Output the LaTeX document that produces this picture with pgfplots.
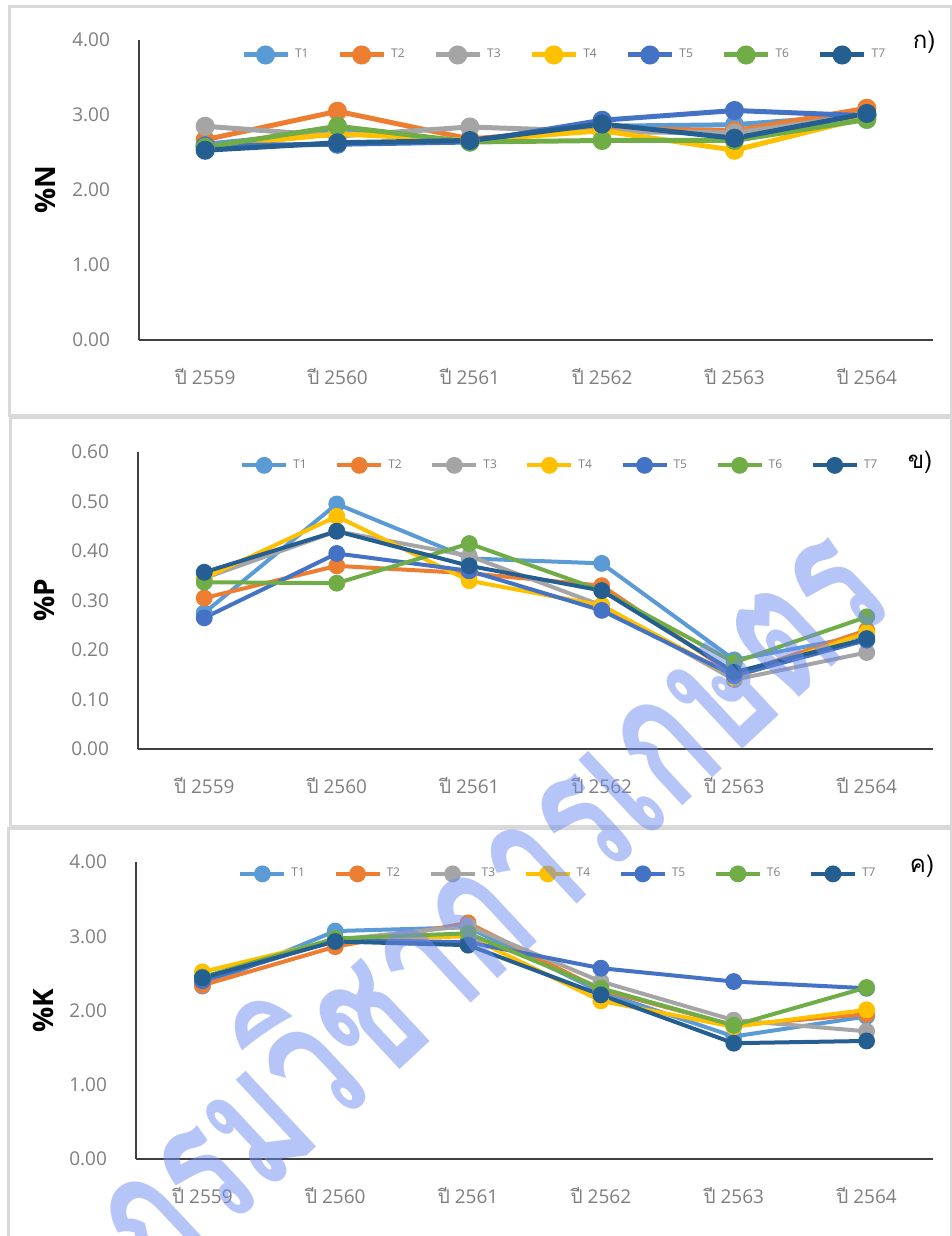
\documentclass[border=0pt]{standalone}
\usepackage{fontspec}
\setmainfont{Open Sans}
\newfontfamily\thaifont[Script=Thai]{Loma}
\usepackage{pgfplots}
\usepackage{pgfplotstable}
\pgfplotsset{compat=1.18}

\definecolor{c1}{HTML}{5B9BD5}
\definecolor{c2}{HTML}{ED7D31}
\definecolor{c3}{HTML}{A5A5A5}
\definecolor{c4}{HTML}{FFC000}
\definecolor{c5}{HTML}{4472C4}
\definecolor{c6}{HTML}{70AD47}
\definecolor{c7}{HTML}{255E91}
\definecolor{tickgray}{HTML}{7F7F7F}
\definecolor{axisgray}{HTML}{404040}
\definecolor{framegray}{HTML}{D9D9D9}
\definecolor{wmblue}{HTML}{6F8CF0}

\pgfplotstableread{
x T1 T2 T3 T4 T5 T6 T7
0 2.61 2.67 2.85 2.57 2.59 2.57 2.53
1 2.78 3.05 2.72 2.75 2.61 2.85 2.63
2 2.65 2.68 2.84 2.66 2.64 2.64 2.66
3 2.85 2.82 2.78 2.79 2.93 2.66 2.88
4 2.87 2.79 2.76 2.53 3.06 2.66 2.69
5 3.00 3.09 3.00 2.97 2.99 2.94 3.02
}\dataN

\pgfplotstableread{
x T1 T2 T3 T4 T5 T6 T7
0 0.275 0.305 0.345 0.345 0.265 0.337 0.357
1 0.495 0.370 0.440 0.470 0.395 0.335 0.440
2 0.385 0.355 0.390 0.340 0.360 0.415 0.370
3 0.375 0.330 0.290 0.290 0.280 0.320 0.320
4 0.180 0.150 0.140 0.145 0.148 0.175 0.155
5 0.230 0.240 0.195 0.235 0.220 0.267 0.223
}\dataP

\pgfplotstableread{
x T1 T2 T3 T4 T5 T6 T7
0 2.33 2.34 2.42 2.52 2.40 2.45 2.44
1 3.07 2.86 2.95 2.95 2.95 2.97 2.93
2 3.12 3.18 3.14 3.00 2.92 3.04 2.88
3 2.25 2.28 2.39 2.13 2.57 2.30 2.21
4 1.65 1.80 1.87 1.78 2.39 1.80 1.56
5 1.92 1.95 1.72 2.01 2.30 2.31 1.59
}\dataK

\pgfplotsset{
  panel/.style={
    scale only axis,
    xmin=-0.5, xmax=5.5, ymin=0,
    xtick={0,...,5},
    xticklabels={{\thaifont ปี} 2559,{\thaifont ปี} 2560,{\thaifont ปี} 2561,{\thaifont ปี} 2562,{\thaifont ปี} 2563,{\thaifont ปี} 2564},
    axis x line=bottom, axis y line=left,
    axis line style={-, draw=axisgray, line width=0.75pt},
    major tick length=0pt,
    /pgf/number format/assume math mode=true,
    tick label style={font=\fontsize{9.5}{11}\selectfont, text=tickgray},
    yticklabel style={/pgf/number format/fixed, /pgf/number format/fixed zerofill, /pgf/number format/precision=2, xshift=-11pt},
    xticklabel style={yshift=-10.5pt},
    ylabel style={at={(rel axis cs:0,0.5)}, anchor=center, font=\fontsize{14}{16}\selectfont\bfseries, text=black},
    clip=false,
    legend columns=7,
    legend style={draw=none, fill=none, inner sep=0pt, anchor=west,
      font=\fontsize{6}{7}\selectfont, text=tickgray,
      /tikz/every even column/.append style={column sep=12.3pt},
      /tikz/every odd column/.append style={column sep=0.5pt}},
    legend image code/.code={\draw[mark repeat=2,mark phase=2] plot coordinates {(0pt,0pt) (11pt,0pt) (22pt,0pt)};},
  },
  s1/.style={color=c1, mark=*, mark options={solid, fill=c1, draw=c1}},
  s2/.style={color=c2, mark=*, mark options={solid, fill=c2, draw=c2}},
  s3/.style={color=c3, mark=*, mark options={solid, fill=c3, draw=c3}},
  s4/.style={color=c4, mark=*, mark options={solid, fill=c4, draw=c4}},
  s5/.style={color=c5, mark=*, mark options={solid, fill=c5, draw=c5}},
  s6/.style={color=c6, mark=*, mark options={solid, fill=c6, draw=c6}},
  s7/.style={color=c7, mark=*, mark options={solid, fill=c7, draw=c7}},
}

\begin{document}
\begin{tikzpicture}[x=0.5pt, y=-0.5pt]
\useasboundingbox (0,0) rectangle (952,1236);
\fill[white] (0,0) rectangle (952,1236);
% panel frames
\draw[framegray, line width=1.5pt] (9,7) rectangle (951,415);
\draw[framegray, line width=1.5pt] (10,417) rectangle (951,826);
\draw[framegray, line width=1.5pt] (8,828) rectangle (951,1245);

% ---------- N ----------
\begin{axis}[panel,
  at={(69.5pt,-170pt)}, anchor=south west,
  width=397pt, height=150pt,
  ymax=4, ytick={0,1,2,3,4},
  ylabel={\%N}, ylabel style={yshift=47pt},
  every axis plot/.append style={line width=2.5pt, mark size=3.5pt},
  legend style={at={(rel axis cs:0.128,0.95)}},
]
\addplot[s1] table[x=x,y=T1]{\dataN};
\addplot[s2] table[x=x,y=T2]{\dataN};
\addplot[s3] table[x=x,y=T3]{\dataN};
\addplot[s4] table[x=x,y=T4]{\dataN};
\addplot[s5] table[x=x,y=T5]{\dataN};
\addplot[s6] table[x=x,y=T6]{\dataN};
\addplot[s7] table[x=x,y=T7]{\dataN};
\legend{T1,T2,T3,T4,T5,T6,T7}
\end{axis}

% ---------- P ----------
\begin{axis}[panel,
  at={(69pt,-374.5pt)}, anchor=south west,
  width=397.5pt, height=148.5pt,
  ymax=0.6, ytick={0,0.1,0.2,0.3,0.4,0.5,0.6},
  ylabel={\%P}, ylabel style={yshift=47pt},
  every axis plot/.append style={line width=2pt, mark size=3.2pt},
  legend style={at={(rel axis cs:0.128,0.955)}},
]
\addplot[s1] table[x=x,y=T1]{\dataP};
\addplot[s2] table[x=x,y=T2]{\dataP};
\addplot[s3] table[x=x,y=T3]{\dataP};
\addplot[s4] table[x=x,y=T4]{\dataP};
\addplot[s5] table[x=x,y=T5]{\dataP};
\addplot[s6] table[x=x,y=T6]{\dataP};
\addplot[s7] table[x=x,y=T7]{\dataP};
\legend{T1,T2,T3,T4,T5,T6,T7}
\end{axis}

% ---------- K ----------
\begin{axis}[panel,
  at={(68pt,-579.5pt)}, anchor=south west,
  width=398.5pt, height=148.5pt,
  ymax=4, ytick={0,1,2,3,4},
  ylabel={\%K}, ylabel style={yshift=46.5pt},
  every axis plot/.append style={line width=2pt, mark size=3.2pt},
  legend style={at={(rel axis cs:0.128,0.96)}},
]
\addplot[s1] table[x=x,y=T1]{\dataK};
\addplot[s2] table[x=x,y=T2]{\dataK};
\addplot[s3] table[x=x,y=T3]{\dataK};
\addplot[s4] table[x=x,y=T4]{\dataK};
\addplot[s5] table[x=x,y=T5]{\dataK};
\addplot[s6] table[x=x,y=T6]{\dataK};
\addplot[s7] table[x=x,y=T7]{\dataK};
\legend{T1,T2,T3,T4,T5,T6,T7}
\end{axis}

% panel letters
\node[font=\thaifont\fontsize{12}{14}\selectfont] at (924,42) {ก)};
\node[font=\thaifont\fontsize{12}{14}\selectfont] at (920,462) {ข)};
\node[font=\thaifont\fontsize{12}{14}\selectfont] at (922,866) {ค)};

% watermark
\node[rotate=43, yscale=1.5, text=wmblue, text opacity=0.5, font=\thaifont\bfseries\fontsize{62}{62}\selectfont] at (478,893) {กรมวิชาการเกษตร};
\end{tikzpicture}
\end{document}
